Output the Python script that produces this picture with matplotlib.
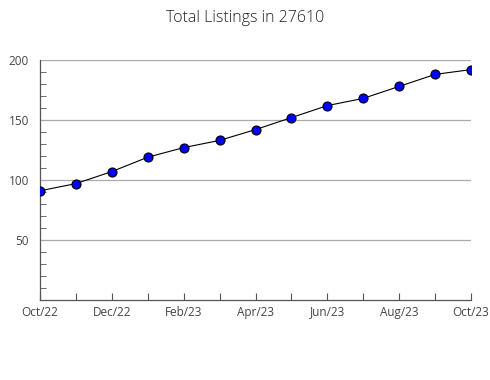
import matplotlib.pyplot as plt
from matplotlib.ticker import MultipleLocator

# Monthly totals, Oct/22 .. Oct/23
months = ['Oct/22', 'Nov/22', 'Dec/22', 'Jan/23', 'Feb/23', 'Mar/23', 'Apr/23',
          'May/23', 'Jun/23', 'Jul/23', 'Aug/23', 'Sep/23', 'Oct/23']
listings = [91, 97, 107, 119, 127, 133, 142, 152, 162, 168, 178, 188, 192]

plt.rcParams['font.family'] = ['Open Sans', 'DejaVu Sans']

fig = plt.figure(figsize=(4.9, 3.8), dpi=100)
ax = fig.add_axes([40 / 490, 80 / 380, 431 / 490, 240 / 380])

x = range(len(months))
ax.plot(x, listings, color='black', linewidth=0.8, marker='o', markersize=6.5,
        markerfacecolor='#0000ff', markeredgecolor='black', markeredgewidth=0.8,
        zorder=3)

ax.set_xlim(0, len(months) - 1)
ax.set_ylim(0, 200)
ax.set_xticks(list(x))
ax.set_xticklabels([m if i % 2 == 0 else '' for i, m in enumerate(months)])
ax.set_yticks([50, 100, 150, 200])
ax.yaxis.set_minor_locator(MultipleLocator(10))

ax.grid(axis='y', color='#aaaaaa', linewidth=0.9)
ax.set_axisbelow(True)
for s in ['top', 'right']:
    ax.spines[s].set_visible(False)
for s in ['left', 'bottom']:
    ax.spines[s].set_color('#555555')
    ax.spines[s].set_linewidth(0.9)

ax.tick_params(axis='both', which='both', direction='in', colors='#555555',
               labelcolor='#444444', labelsize=8.5)
ax.tick_params(axis='y', which='major', length=0, pad=8)
ax.tick_params(axis='y', which='minor', length=4)
ax.tick_params(axis='x', length=5, pad=4)

fig.suptitle('Total Listings in 27610', y=0.975, fontsize=11.5,
             fontweight='light', color='#222222')

fig.savefig('out.png', dpi=100)
